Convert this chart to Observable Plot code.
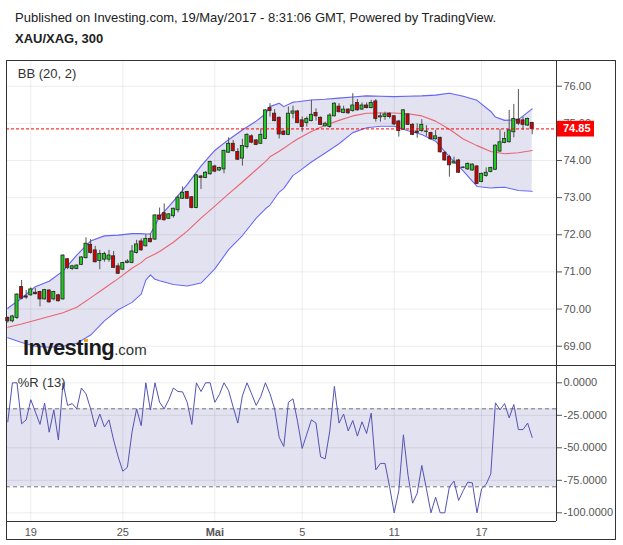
<!DOCTYPE html>
<html><head><meta charset="utf-8">
<script src="https://cdn.jsdelivr.net/npm/d3@7"></script>
<script src="https://cdn.jsdelivr.net/npm/@observablehq/plot@0.6"></script>
<style>
html,body{margin:0;padding:0;background:#fff;}
#page{position:relative;width:623px;height:545px;overflow:hidden;font-family:"Liberation Sans",Arial,sans-serif;}
.a{position:absolute;}
#pub{left:15px;top:10px;font-size:13px;line-height:15px;color:#222;white-space:nowrap;}
#sym{left:15px;top:31px;font-size:13px;line-height:15px;font-weight:bold;color:#222;}
#box{left:6px;top:60px;width:610px;height:480px;border:1px solid #333;box-sizing:border-box;}
#main{left:6px;top:60px;width:610px;height:305px;}
#osc{left:6px;top:365px;width:610px;height:175px;}
.hl{height:1px;background:#333;}
.vl{width:1px;background:#333;}
#logo{left:23px;top:337px;white-space:nowrap;line-height:22px;color:#1b1b1b;}
#logo .big{font-size:22px;font-weight:bold;letter-spacing:-0.6px;}
#logo .dot{position:relative;}
#logo .dot i{position:absolute;left:1.2px;top:3.9px;width:3.6px;height:3.6px;background:#f5a01a;}
#logo .com{font-size:15px;color:#333;}
</style></head>
<body><div id="page">
<div id="pub" class="a">Published on Investing.com, 19/May/2017 - 8:31:06 GMT, Powered by TradingView.</div>
<div id="sym" class="a">XAU/XAG, 300</div>
<div id="main" class="a"></div>
<div id="osc" class="a"></div>
<div id="logo" class="a"><span class="big">Invest<span class="dot">ı<i></i></span>ng</span><span class="com">.com</span></div>
<div class="a" id="box"></div>
<div class="a hl" style="left:6px;top:365px;width:610px"></div>
<div class="a vl" style="left:556px;top:60px;height:461px"></div>
<div class="a hl" style="left:6px;top:521px;width:550px"></div>
</div>
<script>
// ---- data ----
const priceTicks = [69, 70, 71, 72, 73, 74, 75, 76];
const wrTicks = [0, -25, -50, -75, -100];
const wrZone = [-20, -80];
const xTickPos = [5, 25, 45, 64, 84, 103];
const xTickLabels = ["19", "25", "Mai", "5", "11", "17"];
const lastPrice = 74.85;

const open = [69.76,69.67,69.76,70.59,70.34,70.37,70.44,70.46,70.26,70.50,
70.26,70.37,70.26,71.34,71.08,71.08,71.19,71.37,71.73,71.58,
71.29,71.33,71.33,71.42,71.15,71.06,71.24,71.24,71.51,71.82,
71.69,71.89,71.87,72.52,72.58,72.43,72.50,72.66,72.97,73.15,
73.01,72.72,73.57,73.53,73.63,73.84,73.73,73.76,74.21,74.45,
74.23,74.05,74.36,74.65,74.54,74.45,74.58,75.41,75.26,75.15,
74.78,74.69,75.26,75.32,75.08,75.01,75.06,75.28,75.15,74.92,
74.90,75.19,75.45,75.28,75.37,75.33,75.55,75.37,75.48,75.41,
75.59,75.16,75.17,75.26,75.19,75.05,74.83,75.24,74.96,74.78,
74.79,74.77,74.74,74.57,74.61,74.21,74.09,73.92,74.00,73.80,
73.76,73.73,73.84,73.42,73.58,73.69,73.75,74.24,74.47,74.49,
74.76,75.10,75.08,74.94,75.01];
const high = [69.79,69.83,70.41,70.77,70.50,70.57,70.55,70.48,70.53,70.52,
70.48,70.40,71.46,71.36,71.18,71.19,71.41,71.92,71.87,71.69,
71.58,71.53,71.58,71.55,71.22,71.26,71.33,71.71,71.85,71.89,
72.00,72.02,72.54,72.72,72.83,72.57,72.72,73.05,73.29,73.17,
73.03,73.62,73.60,73.70,73.98,73.87,73.82,74.28,74.61,74.54,
74.32,74.57,74.72,74.69,74.56,74.85,75.37,75.53,75.37,75.17,
74.80,75.44,75.46,75.35,75.17,75.17,75.62,75.39,75.17,75.03,
75.26,75.55,75.53,75.46,75.39,75.80,75.64,75.55,75.55,75.62,
75.64,75.28,75.30,75.28,75.21,75.08,75.37,75.26,74.99,74.99,
75.10,74.94,74.76,74.81,74.63,74.23,74.14,74.09,74.03,73.83,
73.93,73.91,73.86,73.66,73.80,73.82,74.42,74.83,74.76,75.35,
75.51,75.91,75.17,75.14,75.03];
const low = [69.62,69.63,69.72,70.25,70.26,70.34,70.38,70.06,70.24,70.16,
70.22,70.19,70.24,71.06,71.04,71.06,71.17,71.35,71.48,71.24,
71.06,71.26,71.26,71.09,70.93,71.04,71.22,71.22,71.48,71.56,
71.67,71.78,71.85,72.39,72.37,72.41,72.45,72.59,72.95,72.95,
72.70,72.70,73.22,73.51,73.60,73.67,73.70,73.64,74.19,74.23,
74.00,73.85,74.31,74.45,74.40,74.43,74.56,75.17,75.04,74.58,
74.67,74.67,75.12,74.99,74.76,74.90,75.04,75.06,74.94,74.90,
74.87,75.17,75.28,75.26,75.24,75.30,75.33,75.35,75.39,75.39,
75.03,75.03,75.08,75.12,74.94,74.63,74.81,74.94,74.67,74.60,
74.76,74.65,74.55,74.55,74.20,73.98,73.55,73.90,73.65,73.78,
73.73,73.71,73.35,73.40,73.55,73.67,73.73,74.22,74.45,74.47,
74.61,74.94,74.81,74.92,74.69];
const close = [69.67,69.80,70.39,70.28,70.31,70.53,70.40,70.26,70.51,70.18,
70.46,70.21,71.44,71.11,71.15,71.17,71.39,71.76,71.51,71.26,
71.48,71.48,71.44,71.11,70.95,71.24,71.28,71.55,71.74,71.58,
71.89,71.80,72.52,72.41,72.39,72.55,72.70,73.00,73.13,72.97,
72.72,73.60,73.53,73.67,73.96,73.70,73.80,74.26,74.45,74.25,
74.02,74.39,74.69,74.48,74.42,74.69,75.35,75.33,75.06,74.70,
74.69,75.26,75.32,75.01,74.90,75.12,75.23,75.19,74.96,74.99,
75.21,75.53,75.30,75.37,75.27,75.48,75.35,75.48,75.41,75.55,
75.12,75.19,75.24,75.17,74.97,74.79,75.35,74.96,74.69,74.74,
74.96,74.78,74.57,74.65,74.22,74.00,73.87,73.97,73.67,73.81,
73.91,73.89,73.37,73.64,73.67,73.80,74.40,74.49,74.58,74.81,
75.12,74.99,74.96,75.12,74.85];

const bbIdx = [0,3,6,9,12,15,18,21,24,27,29,30,31,32,33,36,39,42,45,48,51,54,56,57,59,60,62,63,66,69,72,75,78,81,84,87,90,93,96,99,102,105,106,108,111,114];
const bbUpper = [70.02,70.29,70.60,70.75,71.02,71.45,71.83,71.97,71.99,72.03,72.03,72.02,72.02,72.25,72.48,72.90,73.35,73.85,74.27,74.56,74.82,75.06,75.25,75.45,75.54,75.45,75.57,75.58,75.63,75.65,75.68,75.71,75.74,75.73,75.72,75.73,75.74,75.76,75.81,75.73,75.62,75.32,75.17,75.08,75.10,75.39];
const bbMid = [69.51,69.60,69.70,69.80,69.90,70.05,70.30,70.56,70.82,71.10,71.25,71.36,71.42,71.48,71.55,71.80,72.10,72.45,72.77,73.10,73.42,73.75,73.97,74.10,74.25,74.33,74.50,74.58,74.78,74.95,75.08,75.20,75.27,75.28,75.28,75.26,75.20,75.06,74.84,74.58,74.40,74.24,74.22,74.18,74.21,74.27];
const bbLower = [69.23,69.10,69.00,68.97,69.00,69.08,69.30,69.68,69.98,70.18,70.40,70.78,70.92,70.80,70.76,70.66,70.62,70.70,71.08,71.60,71.98,72.45,72.70,72.80,73.15,73.25,73.60,73.68,73.96,74.20,74.45,74.75,74.88,74.92,74.92,74.80,74.70,74.52,74.10,73.72,73.30,73.26,73.27,73.28,73.19,73.17];

const williamsR = [-30,0,0,-31.5,-28.5,-13,-22.5,-32,-15.6,-38,
-20.8,-44,0,-17.4,-16,-20,-4,-8.5,-20,-34,
-24,-34,-28.5,-44,-57,-68,-65,-38,-20,-33,
0,-21,0,-15,-20,-13,-4,-6.7,-7,-15,
-32,0,-6.7,0,0,-15,-9,0,-6,-18.7,
-31,-10,0,-8.5,-17.4,-10.5,0,-8.5,-20,-42,
-49,-15,-12.3,-30,-50.5,-39.5,-28.5,-31,-57,-58.5,
-37,-2.8,-31,-24,-37,-29,-41,-30,-39,-23.3,
-67,-62,-62,-80,-100,-83,-40,-71,-92.6,-85,
-63.6,-81.5,-100,-88,-100,-100,-80,-75.6,-90.5,-83,
-76.4,-77,-100,-81.5,-78,-70,-15.4,-20.8,-16,-27,
-16.7,-36,-36,-31,-42];

// ---- tables ----
const candles = open.map((o, i) => ({i, open: o, high: high[i], low: low[i], close: close[i]}));
const bb = bbIdx.map((x, k) => ({x, upper: bbUpper[k], mid: bbMid[k], lower: bbLower[k]}));
const wr = williamsR.map((v, i) => ({i, v}));
const xticks = xTickPos.map((p, k) => ({p, label: xTickLabels[k]}));

const font = '"Liberation Sans", Arial, sans-serif';
const baseStyle = {fontFamily: font, fontSize: "11px", color: "#555", background: "transparent", overflow: "visible"};
const xScale = {domain: [0, candles.length - 1], range: [1.3, 525.7], axis: null};
const grid = {stroke: "#000", strokeOpacity: 0.075};

const main = Plot.plot({
  width: 610, height: 305,
  marginLeft: 0, marginRight: 60, marginTop: 0, marginBottom: 0,
  style: baseStyle,
  x: xScale,
  y: {domain: [69, 76], range: [285.7, 25.7], axis: "right", ticks: priceTicks,
      tickFormat: d => d.toFixed(2), tickSize: 5, tickPadding: 2, label: null},
  marks: [
    Plot.areaY(bb, {x: "x", y1: "lower", y2: "upper", fill: "#e2e2f0"}),
    Plot.ruleY(priceTicks, grid),
    Plot.ruleX(xTickPos, grid),
    Plot.lineY(bb, {x: "x", y: "upper", stroke: "#6666f6", strokeWidth: 1.1}),
    Plot.lineY(bb, {x: "x", y: "lower", stroke: "#6666f6", strokeWidth: 1.1}),
    Plot.lineY(bb, {x: "x", y: "mid", stroke: "#ec6470", strokeWidth: 1.1}),
    Plot.ruleX(candles, {x: "i", y1: "low", y2: "high", stroke: "#555"}),
    Plot.rect(candles, {x1: d => d.i - 0.5, x2: d => d.i + 0.5, insetLeft: 0.75, insetRight: 0.75,
      y1: "open", y2: "close",
      fill: d => d.close >= d.open ? "#1fcc1f" : "#d40000", stroke: "#262626", strokeWidth: 0.8}),
    Plot.ruleY([lastPrice], {stroke: "#ff0000", strokeDasharray: "3,2"}),
    Plot.text(["BB (20, 2)"], {frameAnchor: "top-left", textAnchor: "start", lineAnchor: "middle",
      dx: 11.3, dy: 13.3, fontSize: 13, fill: "#333"})
  ]
});
document.getElementById("main").appendChild(main);

// last-price label on the price axis
const yy = main.scale("y").apply(lastPrice);
const lab = d3.select(main).append("g").attr("text-anchor", "start");
lab.append("rect").attr("x", 550).attr("y", yy - 7.6).attr("width", 38).attr("height", 15.7).attr("fill", "#ff0000");
lab.append("text").attr("x", 557).attr("y", yy).attr("dy", "0.36em").attr("text-anchor", "start")
  .attr("fill", "#fff").attr("font-weight", "bold").attr("font-size", 11)
  .attr("font-family", font).text(lastPrice.toFixed(2));

const osc = Plot.plot({
  width: 610, height: 175,
  marginLeft: 0, marginRight: 60, marginTop: 0, marginBottom: 19,
  style: baseStyle,
  x: xScale,
  y: {domain: [-100, 0], range: [147.3, 17.3], axis: "right", ticks: wrTicks,
      tickFormat: d => d.toFixed(4), tickSize: 5, tickPadding: 2, label: null},
  marks: [
    Plot.rect([wrZone], {y1: d => d[1], y2: d => d[0], fill: "#e2e2f0"}),
    Plot.ruleY(wrTicks, grid),
    Plot.ruleX(xTickPos, grid),
    Plot.ruleY(wrZone, {stroke: "#777", strokeDasharray: "4,3"}),
    Plot.lineY(wr, {x: "i", y: "v", stroke: "#5353b3", strokeWidth: 1}),
    Plot.text(xticks, {filter: d => d.label !== "Mai", x: "p", text: "label", frameAnchor: "bottom",
      lineAnchor: "middle", dy: 11.2, fill: "#555", fontSize: 11}),
    Plot.text(xticks, {filter: d => d.label === "Mai", x: "p", text: "label", frameAnchor: "bottom",
      lineAnchor: "middle", dy: 11.2, fill: "#555", fontSize: 11, fontWeight: "bold"}),
    Plot.text(["%R (13)"], {frameAnchor: "top-left", textAnchor: "start", lineAnchor: "middle",
      dx: 11.3, dy: 17.5, fontSize: 13, fill: "#333"})
  ]
});
document.getElementById("osc").appendChild(osc);
</script>
</body></html>
